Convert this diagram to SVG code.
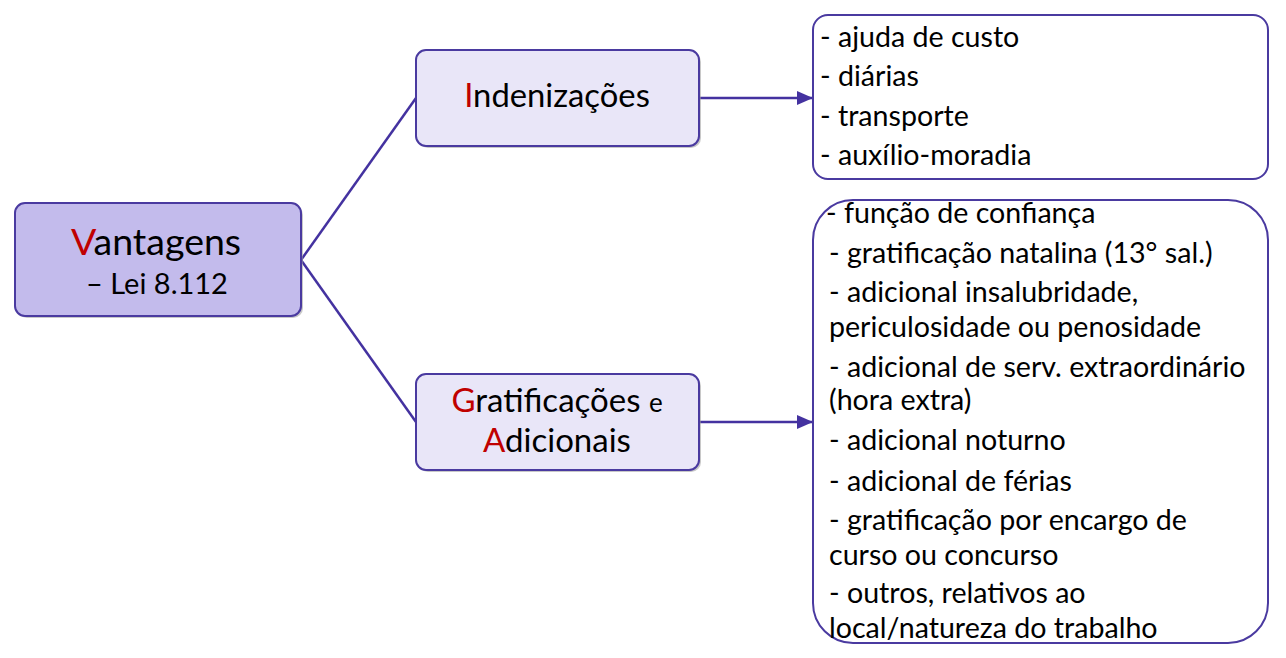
<svg xmlns="http://www.w3.org/2000/svg" width="1286" height="658" viewBox="0 0 1286 658">
<defs>
<style>
.t{font-family:Lato,"Noto Sans","Liberation Sans",sans-serif;fill:#000}
.r{fill:#c00000}
.box{stroke:#4a3aa0;stroke-width:2}
.sh{fill:#9a9a9a;opacity:0.55}
.c{fill:none;stroke:#4432a0;stroke-width:2.5}
.l{font-size:28.6px}
</style>
<marker id="ah2" viewBox="0 0 16 14" refX="16" refY="7" markerWidth="16" markerHeight="14" markerUnits="userSpaceOnUse" orient="auto">
<path d="M0,0L16,7L0,14z" fill="#4432a0"/>
</marker>
</defs>
<rect width="1286" height="658" fill="#fff"/>
<g id="connectors">
<path class="c" d="M301,260L416,98"/>
<path class="c" d="M301,260L416,422"/>
<path class="c" d="M699,98L813,98" marker-end="url(#ah2)"/>
<path class="c" d="M699,422L813,422" marker-end="url(#ah2)"/>
</g>
<g id="vantagens">
<rect class="sh" x="17" y="205" width="286" height="113" rx="10"/>
<rect class="box" x="15" y="203" width="286" height="113" rx="10" fill="#c3bbec"/>
<text class="t" x="156" y="255" text-anchor="middle" font-size="37.5"><tspan class="r">V</tspan>antagens</text>
<text class="t" x="157" y="294" text-anchor="middle" font-size="29">– Lei 8.112</text>
</g>
<g id="indenizacoes">
<rect class="sh" x="418" y="52" width="283" height="96" rx="10"/>
<rect class="box" x="416" y="50" width="283" height="96" rx="10" fill="#e9e6f8"/>
<text class="t" x="557" y="107" text-anchor="middle" font-size="32.8"><tspan class="r">I</tspan>ndenizações</text>
</g>
<g id="gratificacoes">
<rect class="sh" x="418" y="376" width="283" height="96" rx="10"/>
<rect class="box" x="416" y="374" width="283" height="96" rx="10" fill="#e9e6f8"/>
<text class="t" x="557" y="412" text-anchor="middle" font-size="33"><tspan class="r">G</tspan>ratificações <tspan font-size="26">e</tspan></text>
<text class="t" x="557" y="452" text-anchor="middle" font-size="33"><tspan class="r">A</tspan>dicionais</text>
</g>
<g id="lista-indenizacoes">
<rect class="box" x="813" y="15" width="455" height="164" rx="15" fill="#fff"/>
<text class="t l" x="820" y="47">- ajuda de custo</text>
<text class="t l" x="820" y="86">- diárias</text>
<text class="t l" x="820" y="126">- transporte</text>
<text class="t l" x="820" y="165">- auxílio-moradia</text>
</g>
<g id="lista-gratificacoes">
<rect class="box" x="813" y="200" width="455" height="443" rx="40" fill="#fff"/>
<text class="t l" x="826" y="223">- função de confiança</text>
<text class="t l" x="829" y="263">- gratificação natalina (13° sal.)</text>
<text class="t l" x="829" y="302">- adicional insalubridade,</text>
<text class="t l" x="829" y="337">periculosidade ou penosidade</text>
<text class="t l" x="829" y="377">- adicional de serv. extraordinário</text>
<text class="t l" x="829" y="410">(hora extra)</text>
<text class="t l" x="829" y="450">- adicional noturno</text>
<text class="t l" x="829" y="491">- adicional de férias</text>
<text class="t l" x="829" y="530">- gratificação por encargo de</text>
<text class="t l" x="829" y="565">curso ou concurso</text>
<text class="t l" x="829" y="603">- outros, relativos ao</text>
<text class="t l" x="829" y="638">local/natureza do trabalho</text>
</g>
</svg>
